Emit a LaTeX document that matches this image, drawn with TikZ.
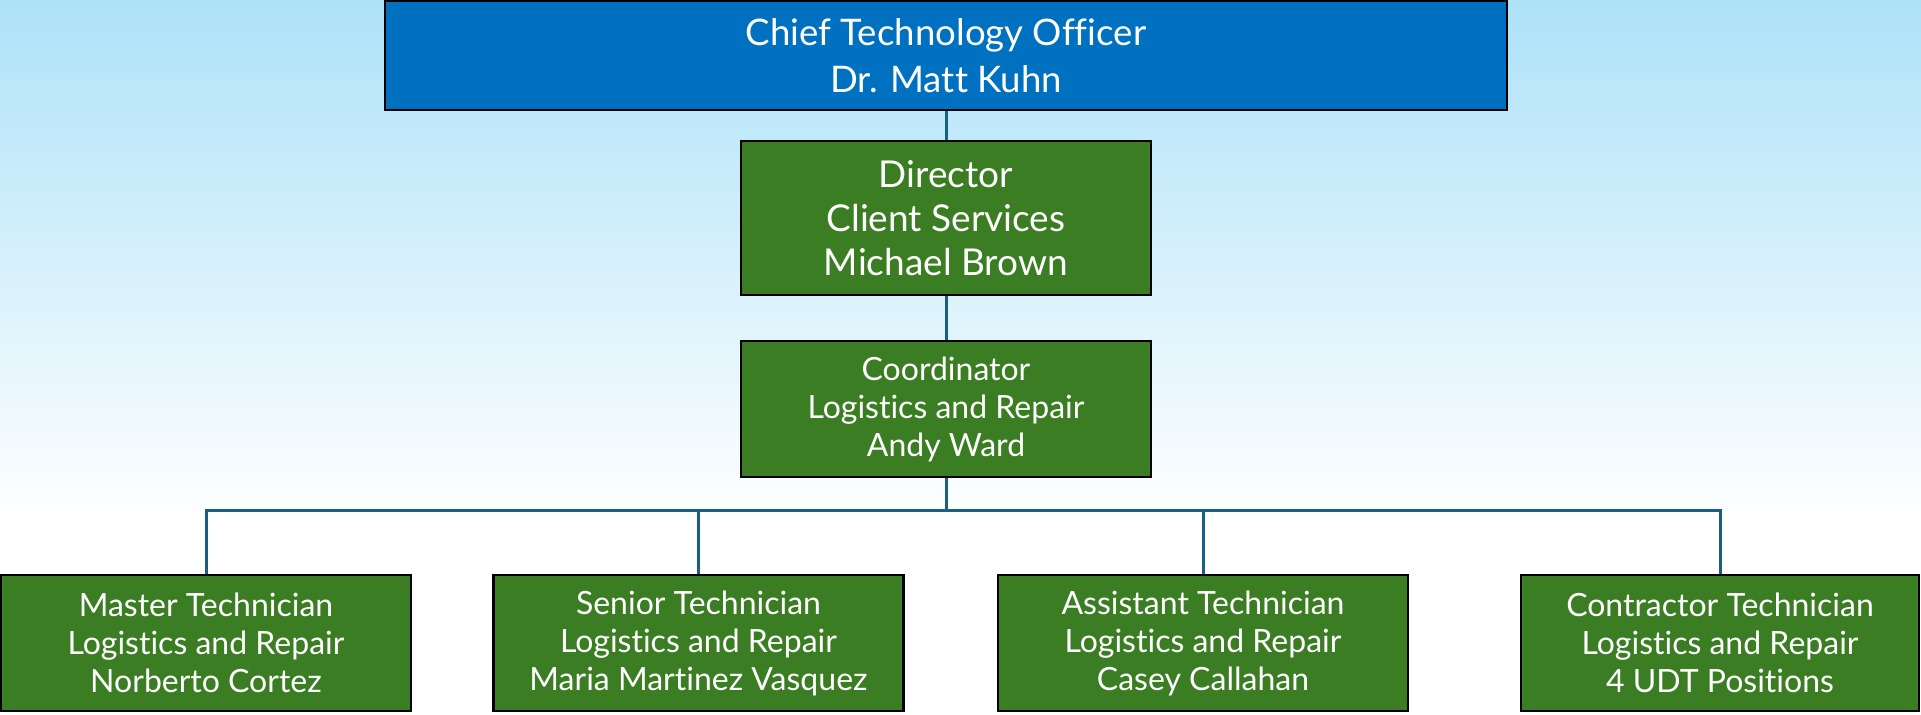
\documentclass[tikz,border=0pt]{standalone}
\usepackage{fontspec}
\setmainfont[Ligatures=NoCommon]{Lato}
\usetikzlibrary{positioning}
\definecolor{ctoblue}{RGB}{0, 112, 192}
\definecolor{staffgreen}{RGB}{59, 125, 35}
\definecolor{linkblue}{RGB}{24, 95, 132}
\definecolor{skyblue}{RGB}{173, 226, 248}

\begin{document}
\begin{tikzpicture}[x=0.5pt, y=-0.5pt,
  orgbox/.style={draw=black, line width=1.4pt, text=white, align=center, inner sep=0pt},
  ctobox/.style={orgbox, fill=ctoblue, minimum width=561pt, minimum height=54.5pt, font=\fontsize{18.3}{23.25}\selectfont},
  dirbox/.style={orgbox, fill=staffgreen, minimum width=205pt, minimum height=77pt, font=\fontsize{18.5}{22}\selectfont},
  staffbox/.style={orgbox, fill=staffgreen, minimum width=205pt, minimum height=68pt, font=\fontsize{16}{19}\selectfont},
  link/.style={draw=linkblue, line width=1.5pt}]
  \useasboundingbox (0,0) rectangle (1921,714);
  % background
  \shade[top color=skyblue, bottom color=white] (0,0) rectangle (1921,520);
  \fill[white] (0,519) rectangle (1921,714);
  % management
  \node[ctobox] (cto) at (946,55.5) {Chief Technology Officer\\Dr. Matt Kuhn};
  \node[dirbox] (dir) at (946,218) {Director\\Client Services\\Michael Brown};
  \node[staffbox] (coord) at (946,409) {Coordinator\\Logistics and Repair\\Andy Ward};
  % technicians
  \node[staffbox] (master) at (206,643) {Master Technician\\Logistics and Repair\\Norberto Cortez};
  \node[staffbox] (senior) at (698.5,643) {Senior Technician\\Logistics and Repair\\Maria Martinez Vasquez};
  \node[staffbox] (assist) at (1203,643) {Assistant Technician\\Logistics and Repair\\Casey Callahan};
  \node[staffbox, minimum width=199pt] (contr) at (1720,643) {Contractor Technician\\Logistics and Repair\\4 UDT Positions};
  \coordinate (bus) at (946,510);
  % connectors
  \draw[link] (cto) -- (dir);
  \draw[link] (dir) -- (coord);
  \draw[link] (coord) -- (bus);
  \draw[link] (master) |- (bus) -| (contr);
  \draw[link] (senior) -- (senior.north |- bus);
  \draw[link] (assist) -- (assist.north |- bus);
\end{tikzpicture}
\end{document}
